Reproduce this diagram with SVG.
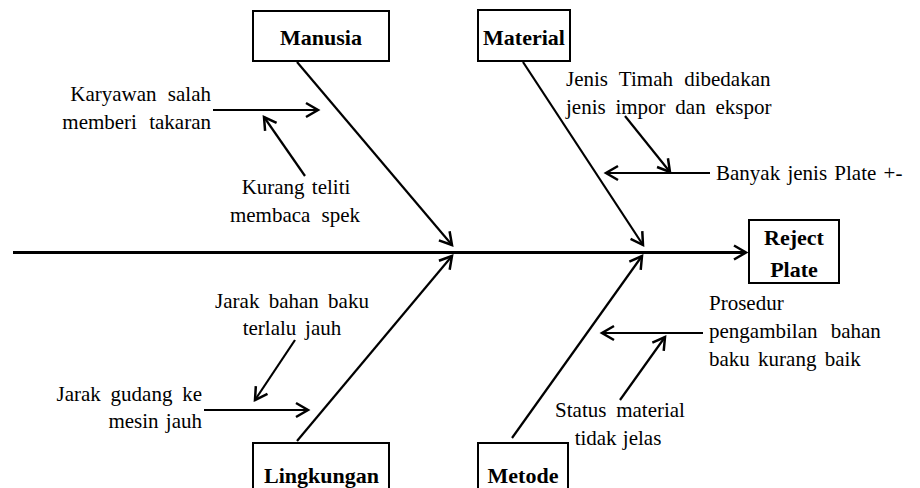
<svg xmlns="http://www.w3.org/2000/svg" width="920" height="488" viewBox="0 0 920 488">
<style>
.box{fill:#fff;stroke:#000;stroke-width:2}
.t{font-family:"Liberation Serif","Times New Roman",serif;font-weight:bold;font-size:22px;fill:#000;text-anchor:middle}
.l{font-family:"Liberation Serif","Times New Roman",serif;font-size:21px;fill:#000}
.c{stroke:#000;stroke-width:2.2;fill:none;marker-end:url(#a)}
.spine{stroke:#000;stroke-width:3;fill:none;marker-end:url(#a)}
</style>
<defs>
<marker id="a" markerUnits="userSpaceOnUse" markerWidth="30" markerHeight="30" viewBox="-15 -15 30 30" refX="0" refY="0" orient="auto" overflow="visible">
<path d="M-12,-7 L0,0 L-12,7" fill="none" stroke="#000" stroke-width="2.5"/>
</marker>
</defs>
<rect width="920" height="488" fill="#fff"/>
<g id="connectors">
<path class="spine" d="M13,252.5 H746"/>
<path class="c" d="M297,62 L452,245"/>
<path class="c" d="M523,62 L643,245"/>
<path class="c" d="M297,441 L452,256"/>
<path class="c" d="M512,438 L642,256"/>
<path class="c" d="M213,110 L318,110"/>
<path class="c" d="M305,176 L264,117"/>
<path class="c" d="M710,173 L606,173"/>
<path class="c" d="M625,116 L670,172"/>
<path class="c" d="M703,333 L602,333"/>
<path class="c" d="M620,400 L665,337"/>
<path class="c" d="M295,340 L255,400"/>
<path class="c" d="M204,410 L308,410"/>
</g>
<g id="manusia"><rect class="box" x="253" y="11" width="136" height="50"/><text class="t" x="321" y="45">Manusia</text></g>
<g id="material"><rect class="box" x="478" y="10" width="92" height="51"/><text class="t" x="524" y="45">Material</text></g>
<g id="reject-plate"><rect class="box" x="749" y="220" width="90" height="63"/><text class="t" x="794" y="245">Reject</text><text class="t" x="794" y="277">Plate</text></g>
<g id="lingkungan"><rect class="box" x="253" y="443" width="136" height="60"/><text class="t" x="321.5" y="483">Lingkungan</text></g>
<g id="metode"><rect class="box" x="478" y="443" width="90" height="60"/><text class="t" x="523" y="483">Metode</text></g>
<g id="karyawan"><text class="l" x="211" y="101" text-anchor="end" word-spacing="6">Karyawan salah</text><text class="l" x="211" y="129" text-anchor="end" word-spacing="7">memberi takaran</text></g>
<g id="kurang-teliti"><text class="l" x="296" y="194" text-anchor="middle" word-spacing="2">Kurang teliti</text><text class="l" x="295" y="222" text-anchor="middle" word-spacing="6">membaca spek</text></g>
<g id="jenis-timah"><text class="l" x="566" y="86" word-spacing="6">Jenis Timah dibedakan</text><text class="l" x="566" y="114" word-spacing="4.5">jenis impor dan ekspor</text></g>
<g id="banyak-jenis"><text class="l" x="716" y="180" word-spacing="2">Banyak jenis Plate +-</text></g>
<g id="prosedur"><text class="l" x="709" y="310">Prosedur</text><text class="l" x="709" y="338" word-spacing="8">pengambilan bahan</text><text class="l" x="709" y="366" word-spacing="3">baku kurang baik</text></g>
<g id="status-material"><text class="l" x="620" y="417" text-anchor="middle" word-spacing="4.5">Status material</text><text class="l" x="618" y="445" text-anchor="middle" word-spacing="1">tidak jelas</text></g>
<g id="jarak-bahan"><text class="l" x="292" y="308" text-anchor="middle" word-spacing="4">Jarak bahan baku</text><text class="l" x="292" y="335" text-anchor="middle" word-spacing="3.5">terlalu jauh</text></g>
<g id="jarak-gudang"><text class="l" x="202" y="401" text-anchor="end" word-spacing="4.5">Jarak gudang ke</text><text class="l" x="202" y="428" text-anchor="end" word-spacing="2">mesin jauh</text></g>
</svg>
